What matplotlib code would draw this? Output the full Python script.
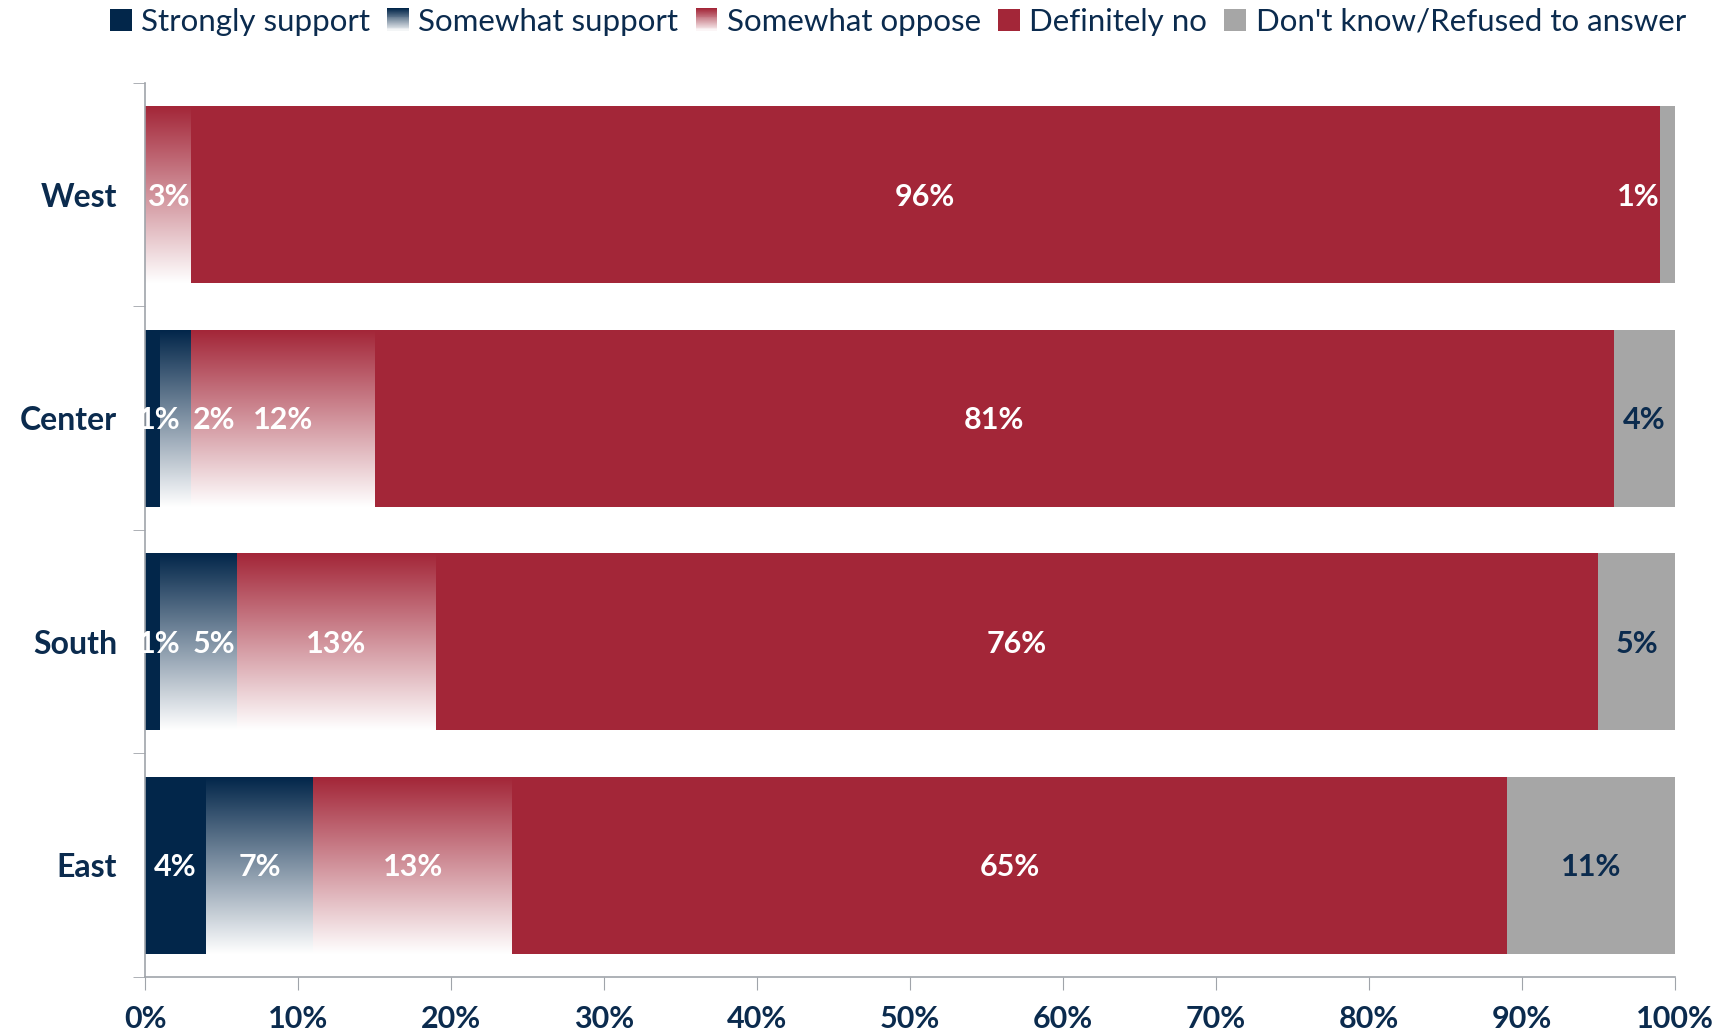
import numpy as np
import matplotlib.pyplot as plt
from matplotlib.colors import LinearSegmentedColormap
from matplotlib.patches import Patch, Rectangle
from matplotlib.legend_handler import HandlerBase

regions = ["West", "Center", "South", "East"]
series = ["Strongly support", "Somewhat support", "Somewhat oppose",
          "Definitely no", "Don't know/Refused to answer"]
strongly_support = [0, 1, 1, 4]
somewhat_support = [0, 2, 5, 7]
somewhat_oppose = [3, 12, 13, 13]
definitely_no = [96, 81, 76, 65]
dont_know = [1, 4, 5, 11]
xticks = list(range(0, 101, 10))

NAVY = "#02264a"
RED = "#a32638"
GRAY = "#a6a6a6"
TEXT = "#0b2b4e"
AXIS = "#a0a4aa"
FONT = "Lato"

colors = [NAVY, NAVY, RED, RED, GRAY]
gradient = [False, True, True, False, False]


def grad_cmap(color):
    return LinearSegmentedColormap.from_list("g", [color, "#ffffff"])


def gradient_fill(ax, bar, color):
    x, y = bar.get_x(), bar.get_y()
    w, h = bar.get_width(), bar.get_height()
    grad = np.linspace(0, 1, 256).reshape(-1, 1)
    ax.imshow(grad, cmap=grad_cmap(color), extent=[x, x + w, y + h, y],
              origin="upper", aspect="auto", zorder=2, interpolation="bilinear")


class GradientHandler(HandlerBase):
    def __init__(self, color):
        super().__init__()
        self.color = color

    def create_artists(self, legend, orig_handle, xdescent, ydescent,
                       width, height, fontsize, trans):
        cmap = grad_cmap(self.color)
        n = 24
        out = []
        for i in range(n):
            c = cmap(i / (n - 1) * 0.95)
            y0 = -ydescent + height * (1 - (i + 1) / n)
            out.append(Rectangle((-xdescent, y0), width, height / n + 0.3,
                                 facecolor=c, linewidth=0, transform=trans))
        return out


fig = plt.figure(figsize=(17.35, 10.32), dpi=100)
ax = fig.add_axes([0.0836, 0.0533, 0.8818, 0.8663])

data = [strongly_support, somewhat_support, somewhat_oppose, definitely_no, dont_know]
ypos = np.arange(len(regions))
left = np.zeros(len(regions))
bar_h = 0.79

for vals, col, grad in zip(data, colors, gradient):
    bars = ax.barh(ypos, vals, left=left, height=bar_h,
                   color="none" if grad else col, linewidth=0, zorder=2)
    if grad:
        for b, v in zip(bars, vals):
            if v > 0:
                gradient_fill(ax, b, col)
    left += np.array(vals)

# data labels
for i in range(len(regions)):
    start = 0
    prev = -10
    for j, vals in enumerate(data):
        v = vals[i]
        if v == 0:
            continue
        xc = start + v / 2
        tcolor = "white"
        if j == 4:
            if v < 2:
                xc = min(xc, 100 - 2.4)
            else:
                tcolor = TEXT
        else:
            xc = max(xc, prev + 3.6, 0.9)
        ax.text(xc, i + 0.01, f"{v}%", ha="center", va="center", color=tcolor,
                fontsize=22, fontweight="bold", family=FONT, zorder=3)
        prev = xc
        start += v

ax.set_xlim(0, 100)
ax.set_ylim(len(regions) - 0.5, -0.5)

ax.set_xticks(xticks)
ax.set_xticklabels([f"{t}%" for t in xticks], fontsize=22, fontweight="bold",
                   color=TEXT, family=FONT)
ax.tick_params(axis="x", length=9, color=AXIS, pad=11)

ax.set_yticks(ypos)
ax.set_yticklabels(regions, fontsize=23, fontweight="bold", color=TEXT, family=FONT)
ax.tick_params(axis="y", which="major", length=0, pad=20)
ax.set_yticks(np.arange(-0.5, len(regions)), minor=True)
ax.tick_params(axis="y", which="minor", length=9, color=AXIS)

for s in ["top", "right"]:
    ax.spines[s].set_visible(False)
for s in ["left", "bottom"]:
    ax.spines[s].set_color(AXIS)
    ax.spines[s].set_linewidth(1.2)

handles = [Patch(facecolor=c, label=s) for c, s in zip(colors, series)]
hmap = {h: GradientHandler(c) for h, c, g in zip(handles, colors, gradient) if g}
fig.legend(handles=handles, handler_map=hmap, loc="center", ncol=5,
           bbox_to_anchor=(0.5175, 0.979), frameon=False,
           prop={"family": FONT, "size": 22.5}, labelcolor=TEXT,
           handlelength=0.7, handleheight=0.7, handletextpad=0.3,
           columnspacing=0.55, borderpad=0)

fig.savefig("out.png", dpi=100)
